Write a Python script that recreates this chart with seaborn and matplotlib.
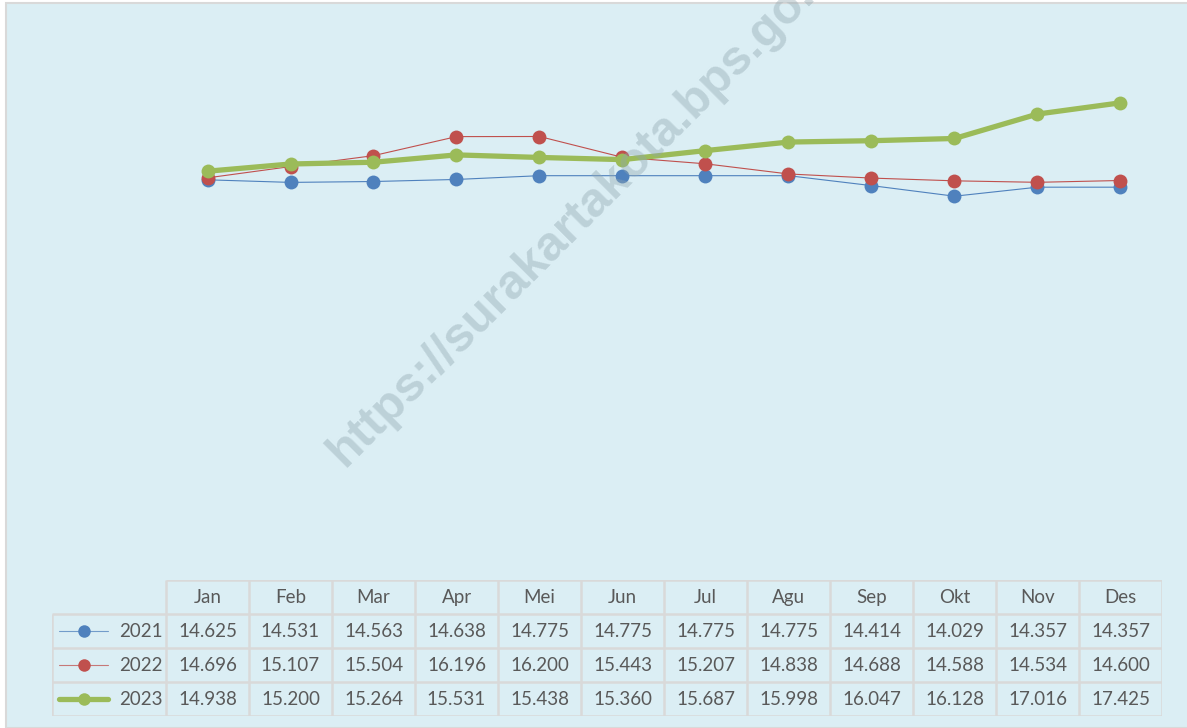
import matplotlib
matplotlib.use("Agg")
import matplotlib.pyplot as plt
from matplotlib.patches import Rectangle
import pandas as pd
import seaborn as sns

months = ["Jan", "Feb", "Mar", "Apr", "Mei", "Jun", "Jul", "Agu", "Sep", "Okt", "Nov", "Des"]
years = ["2021", "2022", "2023"]
v2021 = [14.625, 14.531, 14.563, 14.638, 14.775, 14.775, 14.775, 14.775, 14.414, 14.029, 14.357, 14.357]
v2022 = [14.696, 15.107, 15.504, 16.196, 16.200, 15.443, 15.207, 14.838, 14.688, 14.588, 14.534, 14.600]
v2023 = [14.938, 15.200, 15.264, 15.531, 15.438, 15.360, 15.687, 15.998, 16.047, 16.128, 17.016, 17.425]

series = {"2021": v2021, "2022": v2022, "2023": v2023}
colors = {"2021": "#4F81BD", "2022": "#C0504D", "2023": "#9BBB59"}
widths = {"2021": 0.8, "2022": 0.8, "2023": 3.8}

df = pd.DataFrame({
    "bulan": months * len(years),
    "tahun": [y for y in years for _ in months],
    "nilai": v2021 + v2022 + v2023,
})

sns.set_theme(style="white")
plt.rcParams["font.family"] = ["Lato", "DejaVu Sans"]

W, H = 1187, 728
bg = "#DBEEF4"
grid = "#D9D9D9"
txt = "#595959"
fs = 13.5


def fx(px):
    return px / W


def fy(py):
    return 1 - py / H


fig = plt.figure(figsize=(W / 100, H / 100), dpi=100)
fig.patch.set_facecolor("white")
fig.patches.append(Rectangle((fx(6), 0), 1, fy(3), transform=fig.transFigure,
                             facecolor=bg, edgecolor=grid, lw=1.5, zorder=-1))

# line chart area (y axis 0..20, hidden)
ax = fig.add_axes([fx(166), fy(582), (1162 - 166) / W, (582 - 32) / H])
ax.set_facecolor("none")
for y in years:
    sns.lineplot(data=df[df["tahun"] == y], x="bulan", y="nilai", ax=ax,
                 color=colors[y], lw=widths[y], marker="o", markersize=10,
                 markeredgewidth=0, sort=False)
ax.set_xlim(-0.5, len(months) - 0.5)
ax.set_ylim(0, 20)
ax.axis("off")

# data table below
legw = (166 - 52) / 83.0
tab = fig.add_axes([fx(52), fy(716), (1162 - 52) / W, (716 - 580) / H])
tab.set_facecolor("none")
x0 = -0.5 - legw
x1 = len(months) - 0.5
tab.set_xlim(x0, x1)
tab.set_ylim(4, 0)
tab.axis("off")

tab.hlines(0, -0.5, x1, color=grid, lw=1.8)
tab.hlines([1, 2, 3, 4], x0, x1, color=grid, lw=1.8)
tab.vlines([i - 0.5 for i in range(len(months) + 1)], 0, 4, color=grid, lw=1.8)
tab.vlines(x0, 1, 4, color=grid, lw=1.8)

for i, m in enumerate(months):
    tab.text(i, 0.52, m, ha="center", va="center", fontsize=fs, color=txt)

for r, y in enumerate(years):
    yy = r + 1.5
    for i, v in enumerate(series[y]):
        tab.text(i, yy + 0.02, "%.3f" % v, ha="center", va="center", fontsize=fs, color=txt)
    tab.text(-0.54, yy + 0.02, y, ha="right", va="center", fontsize=fs, color=txt)
    lx = [x0 + 0.085, x0 + 0.68]
    tab.plot(lx, [yy, yy], color=colors[y], lw=widths[y], alpha=0.75 if y != "2023" else 1,
             solid_capstyle="round")
    tab.plot([x0 + 0.39], [yy], "o", color=colors[y], markersize=9, markeredgewidth=0)

# watermark
fig.text(fx(345), fy(468), "https://surakartakota.bps.go.id", rotation=45,
         rotation_mode="anchor", ha="left", va="baseline", fontsize=35,
         fontweight="bold", family="Liberation Sans", color="#8FA5AE",
         alpha=0.4, zorder=10)

fig.savefig("out.png", dpi=100, facecolor=fig.get_facecolor())
